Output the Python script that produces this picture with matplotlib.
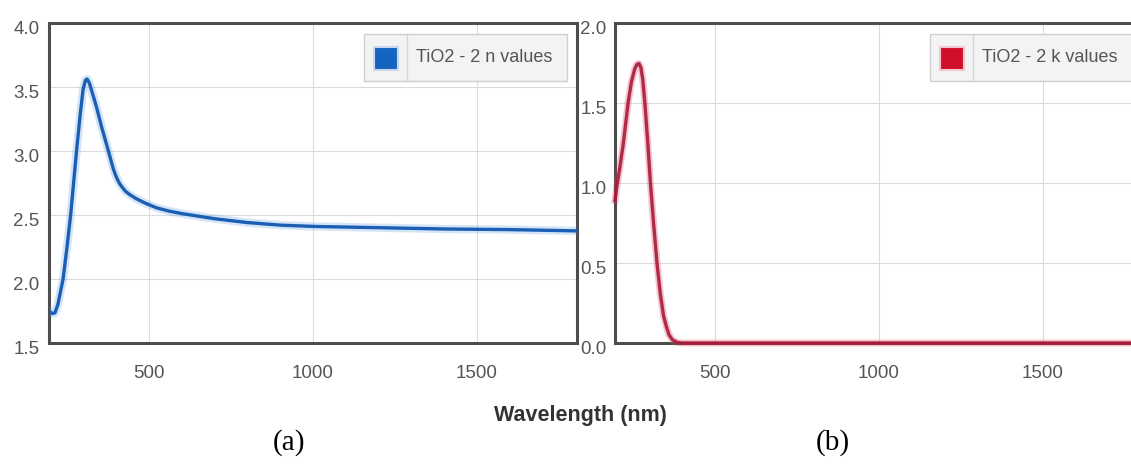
import matplotlib
matplotlib.use('Agg')
import matplotlib.pyplot as plt
import matplotlib.transforms as mtransforms
from matplotlib.patches import Rectangle
from matplotlib.lines import Line2D

# TiO2 - 2, refractive index n
wl_n = [195, 205, 213, 222, 230, 238, 250, 261, 270, 279, 290, 299, 306, 311,
        318, 325, 332, 340, 355, 376, 391, 398, 404, 410, 417, 428, 440, 462,
        490, 523, 560, 600, 650, 700, 800, 900, 1000, 1200, 1400, 1600, 1805]
n_vals = [1.75, 1.73, 1.735, 1.80, 1.90, 2.00, 2.25, 2.50, 2.75, 3.00, 3.28,
          3.48, 3.55, 3.56, 3.53, 3.47, 3.41, 3.34, 3.19, 3.00, 2.86, 2.81,
          2.775, 2.745, 2.72, 2.685, 2.66, 2.625, 2.59, 2.555, 2.53, 2.51,
          2.49, 2.47, 2.44, 2.42, 2.41, 2.40, 2.39, 2.385, 2.375]

# TiO2 - 2, extinction coefficient k
wl_k = [195, 200, 210, 220, 235, 245, 255, 262, 268, 274, 280, 286, 295, 303,
        313, 323, 333, 343, 352, 360, 370, 386, 400, 600, 1000, 1500, 1900]
k_vals = [0.89, 0.97, 1.10, 1.24, 1.50, 1.63, 1.71, 1.74, 1.745, 1.72, 1.64,
          1.50, 1.25, 1.00, 0.74, 0.50, 0.31, 0.17, 0.10, 0.05, 0.02, 0.003,
          0.0, 0.0, 0.0, 0.0, 0.0]

x_ticks = [500, 1000, 1500]
n_ticks = [1.5, 2.0, 2.5, 3.0, 3.5, 4.0]
k_ticks = [0.0, 0.5, 1.0, 1.5, 2.0]
n_label = 'TiO2 - 2 n values'
k_label = 'TiO2 - 2 k values'

plt.rcParams['font.family'] = ['Liberation Sans', 'DejaVu Sans']

W, H = 1131, 465
fig = plt.figure(figsize=(W / 100, H / 100), dpi=100)


def fx(p):
    return p / W


def fy(p):
    return 1 - p / H


ax_n = fig.add_axes([fx(49), fy(343), fx(577) - fx(49), fy(22.7) - fy(343)])
ax_k = fig.add_axes([fx(615), fy(343), fx(1143) - fx(615), fy(22.7) - fy(343)])


def styl(ax, yticks, pad_y):
    ax.set_xlim(195, 1805)
    ax.set_ylim(yticks[0], yticks[-1])
    ax.set_xticks(x_ticks)
    ax.set_xticklabels([str(v) for v in x_ticks])
    ax.set_yticks(yticks)
    ax.set_yticklabels(['%.1f' % v for v in yticks])
    ax.grid(color='#dcdcdc', linewidth=0.8)
    ax.set_axisbelow(True)
    for s in ax.spines.values():
        s.set_color('#4d4d4d')
        s.set_linewidth(2.2)
    ax.tick_params(length=0, labelsize=13.5, labelcolor='#555555')
    ax.tick_params(axis='x', pad=16)
    ax.tick_params(axis='y', pad=pad_y)
    # labels sit a little below their grid line
    shift = mtransforms.ScaledTranslation(0, -0.045, fig.dpi_scale_trans)
    for lab in ax.get_yticklabels():
        lab.set_transform(lab.get_transform() + shift)


styl(ax_n, n_ticks, 7)
styl(ax_k, k_ticks, 6)

ax_n.plot(wl_n, n_vals, color='#5b9be0', linewidth=6, alpha=0.25, zorder=3)
ax_n.plot(wl_n, n_vals, color='#1a5fb4', linewidth=2.4, zorder=4)

ax_k.plot(wl_k, k_vals, color='#e0405a', linewidth=5, alpha=0.3, zorder=3, clip_on=False)
ax_k.plot(wl_k, k_vals, color='#a81a3a', linewidth=2.4, alpha=0.9, zorder=4, clip_on=False)


def legenda(x0, x1, color, edge, text):
    fig.patches.append(Rectangle((fx(x0), fy(81)), fx(x1) - fx(x0), fy(34) - fy(81),
                                 transform=fig.transFigure, facecolor='#f3f3f3',
                                 edgecolor='#cfcfcf', linewidth=1, zorder=5))
    fig.patches.append(Rectangle((fx(x0 + 10), fy(70)), fx(24), fy(47) - fy(70),
                                 transform=fig.transFigure, facecolor=color,
                                 edgecolor=edge, linewidth=1.5, zorder=6))
    fig.lines.append(Line2D([fx(x0 + 43)] * 2, [fy(35), fy(80)],
                            transform=fig.transFigure, color='#d5d5d5',
                            linewidth=1, zorder=6))
    fig.text(fx(x0 + 52), fy(58), text, ha='left', va='center', fontsize=13,
             color='#555555', zorder=7)


legenda(364, 567, '#1565c0', '#c9d8ec', n_label)
legenda(930, 1145, '#d0102a', '#f0c8cf', k_label)

fig.text(fx(580), fy(415), 'Wavelength (nm)', ha='center', va='center',
         fontsize=15.5, fontweight='bold', color='#333333')
fig.text(fx(288.5), fy(443), '(a)', ha='center', va='center', fontsize=21,
         family='Liberation Serif', color='black')
fig.text(fx(833), fy(443), '(b)', ha='center', va='center', fontsize=21,
         family='Liberation Serif', color='black')

fig.savefig('out.png', dpi=100)
